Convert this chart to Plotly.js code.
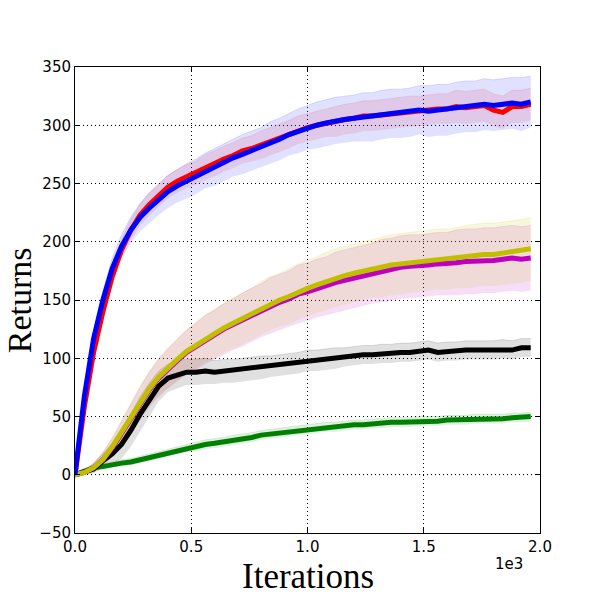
<!DOCTYPE html>
<html>
<head>
<meta charset="utf-8">
<script src="https://cdn.plot.ly/plotly-3.0.1.min.js"></script>
<style>
  html, body { margin: 0; padding: 0; background: #fff; }
  #chart { width: 600px; height: 600px; }
</style>
</head>
<body>
<div id="chart"></div>
<script>
// iterations at which each run was logged
const iterations = [
    0, 40, 80, 120, 160, 200, 240, 280, 320, 360,
    400, 440, 480, 520, 560, 600, 640, 680, 720, 760,
    800, 840, 880, 920, 960, 1000, 1040, 1080, 1120, 1160,
    1200, 1240, 1280, 1320, 1360, 1400, 1440, 1480, 1520, 1560,
    1600, 1640, 1680, 1720, 1760, 1800, 1840, 1880, 1920, 1960,
];

// mean returns
const redMean = [
    0, 58, 105, 140, 170, 193, 210, 223, 232, 240,
    247, 252, 256, 259, 264, 267, 271, 274, 278, 280,
    283, 286, 289, 292, 296, 298, 300, 302, 303, 305,
    306, 308, 308, 309, 310, 311, 312, 312, 313, 314,
    314, 316, 315, 316, 317, 313, 311, 316, 316, 318,
];
const blueMean = [
    0, 67, 117, 150, 177, 196, 210, 221, 229, 236,
    243, 248, 252, 256, 261, 264, 268, 272, 275, 278,
    281, 285, 288, 292, 295, 298, 300, 302, 304, 305,
    306, 307, 307, 309, 310, 310, 311, 313, 312, 313,
    313, 315, 316, 316, 318, 317, 318, 319, 318, 320,
];
const magentaMean = [
    0, 2, 6, 13, 23, 36, 49, 61, 73, 83,
    91, 98, 105, 110, 116, 120, 125, 129, 133, 137,
    141, 145, 148, 151, 155, 157, 160, 162, 165, 167,
    169, 171, 173, 175, 176, 178, 179, 179, 180, 181,
    181, 182, 183, 183, 184, 184, 185, 186, 185, 186,
];
const yellowMean = [
    0, 2, 6, 13, 24, 37, 50, 62, 74, 84,
    92, 99, 106, 111, 117, 121, 126, 130, 134, 138,
    143, 147, 150, 153, 157, 160, 163, 166, 169, 171,
    173, 175, 177, 178, 180, 181, 182, 183, 184, 185,
    185, 186, 187, 188, 189, 189, 190, 191, 192, 194,
];
const blackMean = [
    0, 2, 5, 12, 18, 26, 38, 52, 65, 76,
    83, 86, 88, 88, 89, 88, 89, 89, 90, 91,
    92, 93, 94, 95, 96, 98, 98, 99, 100, 101,
    102, 103, 103, 104, 104, 105, 105, 106, 107, 105,
    106, 106, 107, 107, 107, 107, 108, 107, 109, 109,
];
const greenMean = [
    0, 3, 6, 7, 9, 10, 11, 13, 15, 17,
    19, 21, 23, 24, 26, 27, 28, 30, 31, 32,
    34, 35, 36, 37, 38, 39, 40, 41, 41, 42,
    43, 43, 44, 44, 45, 45, 45, 46, 46, 46,
    47, 47, 47, 48, 48, 48, 48, 49, 49, 50,
];

// half width of the shaded band around each mean
const redSpread = [
    0, 5, 7, 8, 8, 9, 9, 9, 10, 10,
    10, 10, 10, 10, 11, 11, 11, 11, 11, 11,
    12, 12, 12, 12, 12, 12, 12, 12, 13, 13,
    13, 13, 13, 13, 13, 13, 13, 13, 13, 13,
    13, 14, 14, 14, 14, 14, 14, 14, 14, 14,
];
const blueSpread = [
    0, 4, 6, 8, 9, 10, 11, 12, 13, 13,
    14, 14, 15, 15, 15, 16, 16, 16, 17, 17,
    17, 18, 18, 18, 19, 19, 20, 20, 20, 20,
    20, 21, 21, 21, 21, 21, 21, 21, 22, 22,
    22, 22, 22, 22, 22, 22, 22, 22, 23, 22,
];
const magentaSpread = [
    0, 2, 4, 6, 8, 10, 12, 14, 15, 16,
    17, 18, 19, 20, 21, 21, 22, 22, 23, 23,
    23, 24, 24, 24, 25, 25, 25, 25, 26, 26,
    26, 26, 26, 27, 27, 27, 27, 27, 27, 27,
    27, 28, 28, 28, 28, 28, 28, 28, 28, 28,
];
const yellowSpread = [
    0, 2, 4, 6, 8, 10, 12, 14, 15, 16,
    17, 18, 19, 20, 20, 21, 21, 22, 22, 22,
    23, 23, 23, 24, 24, 24, 24, 25, 25, 25,
    25, 25, 25, 26, 26, 26, 26, 26, 26, 26,
    26, 26, 27, 27, 27, 27, 27, 27, 27, 27,
];
const blackSpread = [
    0, 2, 4, 6, 9, 12, 14, 15, 14, 13,
    12, 12, 11, 11, 11, 10, 10, 10, 10, 10,
    10, 9, 9, 9, 9, 9, 9, 9, 9, 8,
    8, 8, 8, 8, 8, 8, 8, 8, 8, 8,
    8, 8, 8, 8, 8, 8, 8, 8, 8, 8,
];
const greenSpread = [
    0, 1, 2, 2, 2, 3, 3, 3, 3, 3,
    3, 3, 3, 4, 4, 4, 4, 4, 4, 4,
    4, 4, 4, 4, 4, 4, 4, 4, 4, 4,
    4, 4, 4, 4, 4, 4, 4, 4, 4, 4,
    4, 4, 4, 4, 4, 4, 4, 4, 4, 4,
];

const xTickVals = [0, 500, 1000, 1500, 2000];
const xTickText = ['0.0', '0.5', '1.0', '1.5', '2.0'];
const yTickVals = [-50, 0, 50, 100, 150, 200, 250, 300, 350];
const yTickText = ['\u221250', '0', '50', '100', '150', '200', '250', '300', '350'];

// draw order matters: later runs sit on top
const runs = [
    { mean: greenMean, spread: greenSpread, color: '0, 128, 0', alpha: 0.12 },
    { mean: blackMean, spread: blackSpread, color: '0, 0, 0', alpha: 0.12 },
    { mean: magentaMean, spread: magentaSpread, color: '191, 0, 191', alpha: 0.13 },
    { mean: redMean, spread: redSpread, color: '255, 0, 0', alpha: 0.1 },
    { mean: yellowMean, spread: yellowSpread, color: '191, 191, 0', alpha: 0.13 },
    { mean: blueMean, spread: blueSpread, color: '0, 0, 255', alpha: 0.12 },
];

const bandTraces = [];
const lineTraces = [];
runs.forEach(function(run) {
    const lower = run.mean.map((v, i) => v - run.spread[i]);
    const upper = run.mean.map((v, i) => v + run.spread[i]);
    bandTraces.push({
        x: iterations, y: lower, mode: 'lines',
        line: { width: 0 }, hoverinfo: 'skip', showlegend: false,
    });
    bandTraces.push({
        x: iterations, y: upper, mode: 'lines', fill: 'tonexty',
        fillcolor: `rgba(${run.color}, ${run.alpha})`,
        line: { width: 1, color: `rgba(${run.color}, ${run.alpha})` },
        hoverinfo: 'skip', showlegend: false,
    });
    lineTraces.push({
        x: iterations, y: run.mean, mode: 'lines',
        line: { color: `rgb(${run.color})`, width: 5 },
        showlegend: false,
    });
});

const axisCommon = {
    showline: true,
    linecolor: '#000',
    linewidth: 1,
    mirror: 'allticks',
    ticks: 'inside',
    ticklen: 5,
    tickcolor: '#000',
    showgrid: true,
    gridcolor: '#000',
    gridwidth: 1,
    griddash: '1px,3px',
    zeroline: false,
    tickfont: { family: 'DejaVu Sans', size: 15, color: '#000' },
};

const layout = {
    width: 600,
    height: 600,
    margin: { l: 75, r: 60, t: 67, b: 67 },
    paper_bgcolor: '#fff',
    plot_bgcolor: '#fff',
    showlegend: false,
    xaxis: Object.assign({}, axisCommon, {
        range: [0, 2000],
        tickmode: 'array',
        tickvals: xTickVals,
        ticktext: xTickText,
    }),
    yaxis: Object.assign({}, axisCommon, {
        range: [-50, 350],
        tickmode: 'array',
        tickvals: yTickVals,
        ticktext: yTickText,
    }),
    annotations: [
        {
            text: 'Returns', xref: 'paper', yref: 'paper',
            x: -0.12, y: 0.5, xanchor: 'center', yanchor: 'middle',
            textangle: -90, showarrow: false,
            font: { family: 'Liberation Serif', size: 34, color: '#000' },
        },
        {
            text: 'Iterations', xref: 'paper', yref: 'paper',
            x: 0.5, y: -0.094, xanchor: 'center', yanchor: 'middle',
            showarrow: false,
            font: { family: 'Liberation Serif', size: 35, color: '#000' },
        },
        {
            text: '1e3', xref: 'paper', yref: 'paper',
            x: 0.968, y: -0.066, xanchor: 'right', yanchor: 'middle',
            showarrow: false,
            font: { family: 'DejaVu Sans', size: 15, color: '#000' },
        },
    ],
};

Plotly.newPlot('chart', bandTraces.concat(lineTraces), layout, { displayModeBar: false, staticPlot: true });
</script>
</body>
</html>
